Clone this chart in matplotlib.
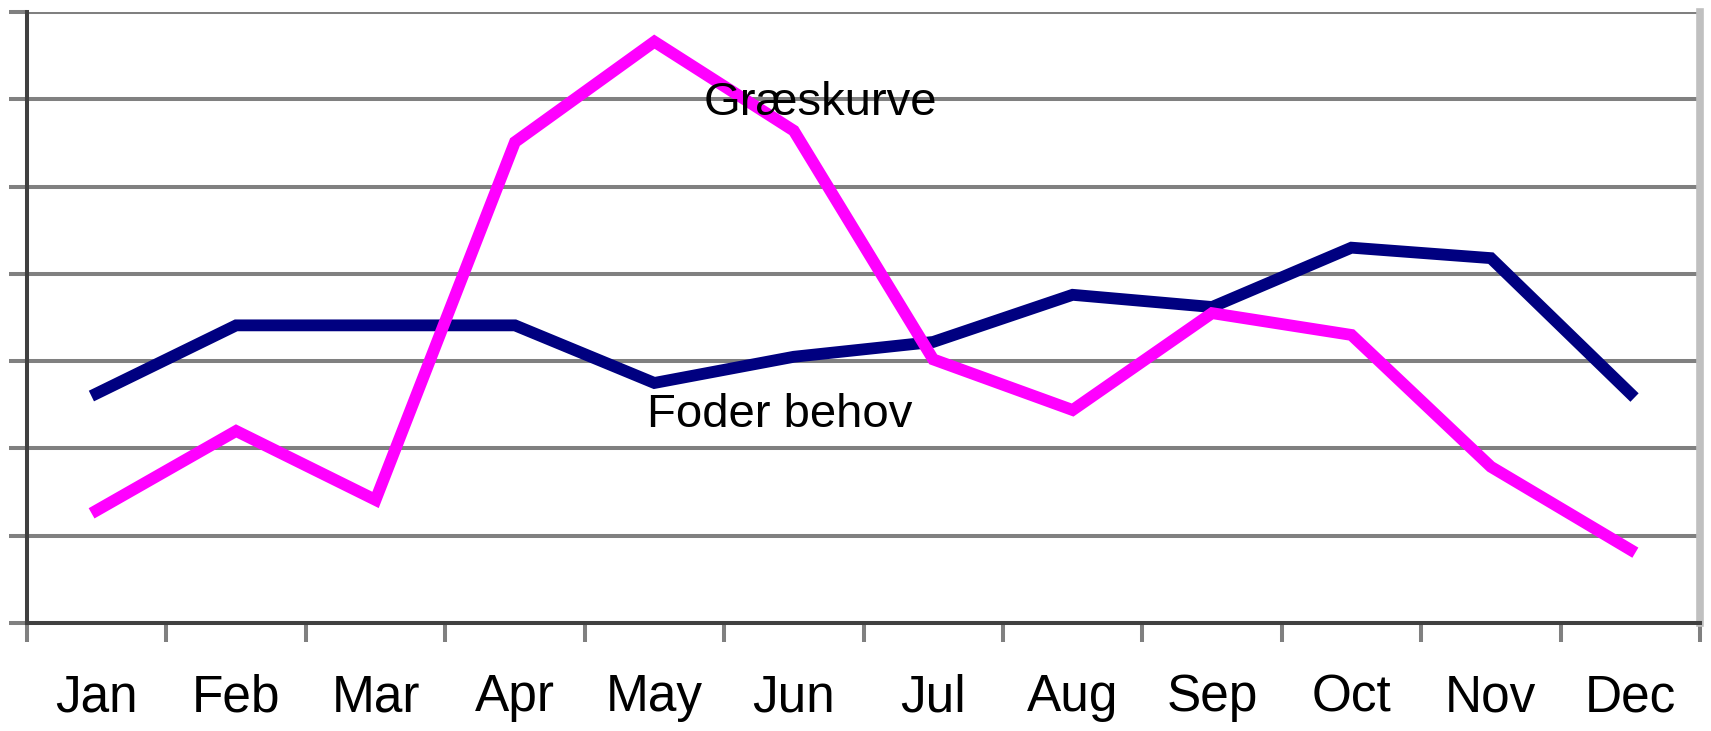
import matplotlib
matplotlib.use("Agg")
import matplotlib.pyplot as plt
import numpy as np

months = ["Jan", "Feb", "Mar", "Apr", "May", "Jun",
          "Jul", "Aug", "Sep", "Oct", "Nov", "Dec"]
foder_behov = [2.63, 3.41, 3.41, 3.41, 2.75, 3.05, 3.22, 3.76, 3.62, 4.30, 4.18, 2.63]
graeskurve = [1.29, 2.20, 1.41, 5.51, 6.66, 5.64, 3.02, 2.44, 3.55, 3.30, 1.79, 0.84]

plt.rcParams["font.family"] = ["Liberation Sans", "DejaVu Sans"]

fig = plt.figure(figsize=(17.11, 7.31), dpi=100)
ax = fig.add_axes([27 / 1711, 108 / 731, 1673 / 1711, 611 / 731])

x = np.arange(len(months))
ax.plot(x, foder_behov, color="#000080", lw=8.5, solid_joinstyle="miter", zorder=3)
ax.plot(x, graeskurve, color="#ff00ff", lw=8.5, solid_joinstyle="miter", zorder=3)

ax.set_xlim(-0.5, 11.5)
ax.set_ylim(0, 7)

# gridlines + gray outward y ticks
ax.set_yticks(range(0, 8))
ax.set_yticklabels([])
ax.yaxis.grid(True, color="#808080", lw=2.9)
ax.tick_params(axis="y", length=13, width=2.9, color="#808080", direction="out")

# category boundaries get tick marks, labels sit in the middle
ax.set_xticks(np.arange(-0.5, 12, 1))
ax.set_xticklabels([])
ax.tick_params(axis="x", which="major", length=13.5, width=2.9, color="#808080")
ax.set_xticks(x, minor=True)
ax.set_xticklabels(months, minor=True, fontsize=37)
ax.tick_params(axis="x", which="minor", length=0, pad=36)

for s in ["left", "bottom"]:
    ax.spines[s].set_color("#404040")
    ax.spines[s].set_linewidth(2.9)
ax.spines["top"].set_visible(False)
ax.spines["right"].set_color("#c0c0c0")
ax.spines["right"].set_linewidth(5.5)

ax.text(4.35, 5.82, "Græskurve", fontsize=34, ha="left", va="baseline", zorder=4)
ax.text(3.95, 2.245, "Foder behov", fontsize=34, ha="left", va="baseline", zorder=4)

fig.savefig("out.png", dpi=100)
